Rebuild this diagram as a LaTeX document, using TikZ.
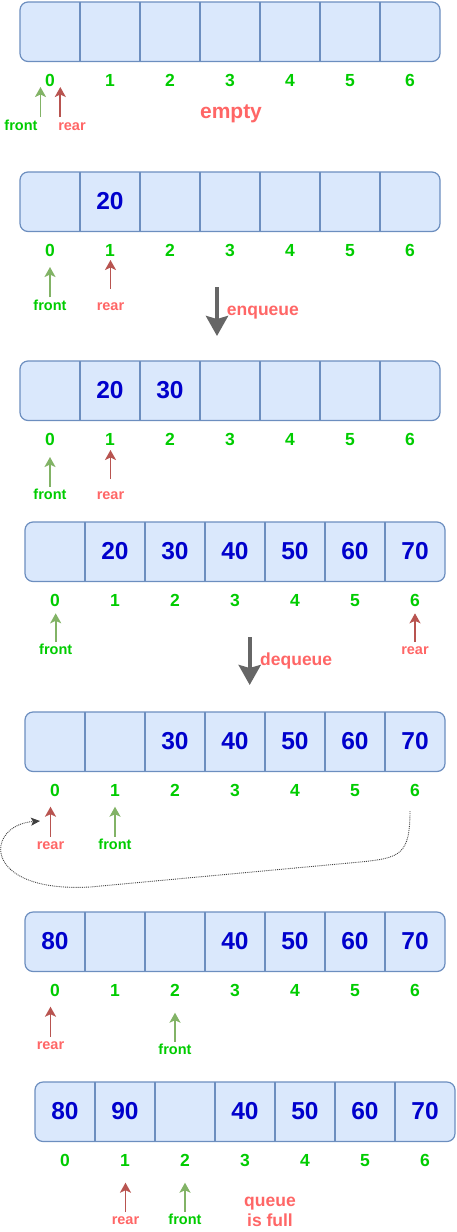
\documentclass[tikz,border=0pt]{standalone}
\usepackage{fontspec}
\setmainfont{Liberation Sans}
\usetikzlibrary{arrows.meta}

\definecolor{cellfill}{HTML}{DAE8FC}
\definecolor{cellline}{HTML}{6C8EBF}
\definecolor{idxgreen}{HTML}{00CC00}
\definecolor{valblue}{HTML}{0000CC}
\definecolor{frontline}{HTML}{82B366}
\definecolor{rearline}{HTML}{B85450}
\definecolor{reartext}{HTML}{FF6666}
\definecolor{opgray}{HTML}{666666}

\tikzset{
	queuebox/.style={draw=cellline, line width=1.2pt, fill=cellfill},
	idx/.style={text=idxgreen, font=\fontsize{17.5}{20}\selectfont\bfseries, inner sep=0pt},
	val/.style={text=valblue, font=\fontsize{24.5}{28}\selectfont\bfseries, inner sep=0pt},
	fronttxt/.style={text=idxgreen, font=\fontsize{14.5}{17}\selectfont\bfseries, inner sep=0pt, outer sep=2pt, anchor=base},
	reartxt/.style={text=reartext, font=\fontsize{14.5}{17}\selectfont\bfseries, inner sep=0pt, outer sep=4.5pt, anchor=base},
	frontarr/.style={draw=frontline, line width=1.8pt, -{Stealth[length=10pt,width=11pt,inset=2.5pt]}},
	reararr/.style={draw=rearline, line width=1.8pt, -{Stealth[length=10pt,width=11pt,inset=2.5pt]}},
	optxt/.style={text=reartext, font=\fontsize{17.5}{20.7}\selectfont\bfseries, inner sep=0pt},
	oparr/.style={draw=opgray, line width=4pt, -{Stealth[length=20pt,width=22pt,inset=3pt]}},
	loopback/.style={draw=black!75, densely dotted, line width=0.9pt, -{Stealth[length=9pt,width=8pt,inset=2pt]}}
}

\begin{document}
\begin{tikzpicture}[x=1pt,y=-1pt]
	\useasboundingbox (0,0) rectangle (456,1232);
	% the seven states of the array
	\foreach \p/\x/\y in {1/20/2,2/20/172,3/20/361,4/25/522,5/25/712,6/25/912,7/35/1082} {
		\draw[queuebox, rounded corners=8pt] (\x,\y) rectangle ++(420,59.5);
		\foreach \k in {1,...,6}
			\draw[queuebox] (\x+60*\k,\y) -- ++(0,59.5);
		\foreach \k in {0,...,6}
			\node[idx] (i\p-\k) at (\x+30+60*\k,\y+78.7) {\k};
	}
	% stored values
	\foreach \k/\v in {1/20}
		\node[val] (v2-\k) at (50+60*\k,201) {\v};
	\foreach \k/\v in {1/20,2/30}
		\node[val] (v3-\k) at (50+60*\k,390.5) {\v};
	\foreach \k/\v in {1/20,2/30,3/40,4/50,5/60,6/70}
		\node[val] (v4-\k) at (55+60*\k,551) {\v};
	\foreach \k/\v in {2/30,3/40,4/50,5/60,6/70}
		\node[val] (v5-\k) at (55+60*\k,741) {\v};
	\foreach \k/\v in {0/80,3/40,4/50,5/60,6/70}
		\node[val] (v6-\k) at (55+60*\k,941) {\v};
	\foreach \k/\v in {0/80,1/90,3/40,4/50,5/60,6/70}
		\node[val] (v7-\k) at (65+60*\k,1111) {\v};

	% front / rear pointers
	\node[fronttxt] (f1) at (21,130) {front};
	\node[reartxt] (r1) at (72,130) {rear};
	\coordinate (f1a) at (40.5,117);
	\coordinate (f1b) at (40.5,87);
	\coordinate (r1a) at (60.3,117);
	\coordinate (r1b) at (60.3,87);
	\draw[frontarr] (f1a) -- (f1b);
	\draw[reararr] (r1a) -- (r1b);

	\node[fronttxt] (f2) at (50,310) {front};
	\node[reartxt] (r2) at (110.5,310) {rear};
	\coordinate (f2t) at (50,267);
	\coordinate (r2t) at (110.5,260);
	\draw[frontarr] (f2) -- (f2t);
	\draw[reararr, shorten <=9pt] (r2) -- (r2t);

	\node[fronttxt] (f3) at (50,499) {front};
	\node[reartxt] (r3) at (110.5,499) {rear};
	\coordinate (f3t) at (50,457);
	\coordinate (r3t) at (110.5,450);
	\draw[frontarr] (f3) -- (f3t);
	\draw[reararr, shorten <=7.5pt] (r3) -- (r3t);

	\node[fronttxt] (f4) at (55.7,654.3) {front};
	\node[reartxt] (r4) at (415,654.3) {rear};
	\coordinate (f4t) at (55.7,613.3);
	\coordinate (r4t) at (415,613.3);
	\draw[frontarr] (f4) -- (f4t);
	\draw[reararr] (r4) -- (r4t);

	\node[reartxt] (r5) at (50.5,849) {rear};
	\node[fronttxt] (f5) at (115,849) {front};
	\coordinate (r5t) at (50.5,806.7);
	\coordinate (f5t) at (115,806.7);
	\draw[reararr] (r5) -- (r5t);
	\draw[frontarr] (f5) -- (f5t);

	\node[reartxt] (r6) at (50.5,1049) {rear};
	\node[fronttxt] (f6) at (175,1054.3) {front};
	\coordinate (r6t) at (50.5,1006.7);
	\coordinate (f6t) at (175,1012.7);
	\draw[reararr] (r6) -- (r6t);
	\draw[frontarr] (f6) -- (f6t);

	\node[reartxt] (r7) at (125.5,1224.3) {rear};
	\node[fronttxt] (f7) at (185,1224.3) {front};
	\coordinate (r7t) at (125.5,1182.7);
	\coordinate (f7t) at (185,1182.7);
	\draw[reararr] (r7) -- (r7t);
	\draw[frontarr] (f7) -- (f7t);

	% operations
	\node[optxt, font=\fontsize{21}{24}\selectfont\bfseries, anchor=base] (empty) at (231,118) {empty};
	\coordinate (enqa) at (217,287);
	\coordinate (enqb) at (217,336);
	\draw[oparr] (enqa) -- (enqb);
	\node[optxt, anchor=base west] (enq) at (226.7,315) {enqueue};
	\coordinate (deqa) at (249.7,637);
	\coordinate (deqb) at (249.7,685);
	\draw[oparr] (deqa) -- (deqb);
	\node[optxt, anchor=base west] (deq) at (260,665.5) {dequeue};
	\node[optxt, anchor=base, align=center] (full) at (270,1226.7) {queue\\is full};

	% wrap around from index 6 back to index 0
	\coordinate (wrapa) at (410,811);
	\coordinate (wrapb) at (40,821);
	\draw[loopback] (wrapa) .. controls (410,855) and (400,858) .. (360,862)
		-- (90,887) .. controls (-20,893) and (-15,825) .. (wrapb);
\end{tikzpicture}
\end{document}
